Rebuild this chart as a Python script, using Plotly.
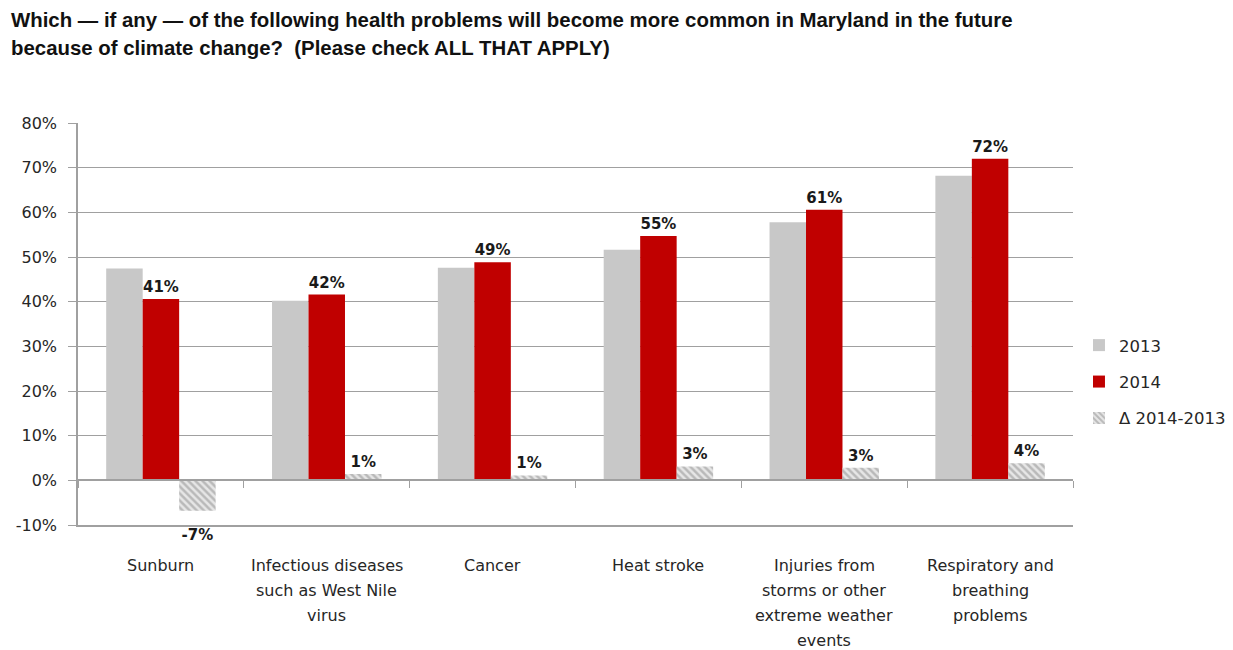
import plotly.graph_objects as go

categories = ["Sunburn", "Infectious diseases<br>such as West Nile<br>virus", "Cancer", "Heat stroke",
              "Injuries from<br>storms or other<br>extreme weather<br>events", "Respiratory and<br>breathing<br>problems"]
v2013 = [47.4, 40.2, 47.6, 51.6, 57.8, 68.2]
v2014 = [40.6, 41.6, 48.8, 54.7, 60.6, 72.0]
delta = [-6.8, 1.4, 1.1, 3.1, 2.8, 3.8]
yticks = [-10, 0, 10, 20, 30, 40, 50, 60, 70, 80]
yticklabels = [f"{t}%" for t in yticks]

FONT = "DejaVu Sans"
lbl_font = dict(family=FONT, size=15, color="#1a1a1a", weight="bold")
GRID = "#a0a0a0"
FIG_H = 642
M_T, M_B = 115, 125
PLOT_H = FIG_H - M_T - M_B

def delta_text(v):
    s = f"{round(v):.0f}%"
    return "<span style='font-size:8px'>\u00a0</span><br>" + s if v < 0 else s

fig = go.Figure()
fig.add_trace(go.Bar(name="2013", x=categories, y=v2013, marker_color="#c8c8c8",
                     marker_line_width=0, legendgroup="a"))
fig.add_trace(go.Bar(name="2014", x=categories, y=v2014, marker_color="#c00000",
                     marker_line_width=0, legendgroup="b",
                     text=[f"{round(v):.0f}%" for v in v2014], textposition="outside",
                     textfont=lbl_font, cliponaxis=False))
fig.add_trace(go.Bar(name="Δ 2014-2013", x=categories, y=delta, legendgroup="c",
                     marker=dict(color="white", line_width=0,
                                 pattern=dict(shape="\\", fgcolor="#8c8c8c", bgcolor="#e6e6e6",
                                              size=5, solidity=0.5)),
                     text=[delta_text(v) for v in delta], textposition="outside",
                     textfont=lbl_font, cliponaxis=False, constraintext="none"))
# invisible trace for zero-line axis with boundary ticks
fig.add_trace(go.Bar(x=categories, y=[None]*6, xaxis="x2", showlegend=False, hoverinfo="skip"))

# category labels as annotations (to reproduce the wider line spacing)
annotations = []
for cat in categories:
    for k, line in enumerate(cat.split("<br>")):
        annotations.append(dict(text=line, x=cat, xref="x", yref="paper",
                                y=(-40 - 25 * k) / PLOT_H, xanchor="center", yanchor="middle",
                                showarrow=False, font=dict(family=FONT, size=16, color="#262626")))

annotations += [
    dict(text="<b>Which — if any — of the following health problems will become more common in Maryland in the future</b>",
         xref="paper", yref="paper", x=-0.0693, y=1.256, xanchor="left", yanchor="middle",
         showarrow=False, font=dict(family="Liberation Sans", size=20.4, color="#111111")),
    dict(text="<b>because of climate change?  (Please check ALL THAT APPLY)</b>",
         xref="paper", yref="paper", x=-0.0693, y=1.186, xanchor="left", yanchor="middle",
         showarrow=False, font=dict(family="Liberation Sans", size=20.4, color="#111111")),
]

fig.update_layout(
    width=1225, height=FIG_H,
    margin=dict(l=70, r=160, t=M_T, b=M_B, autoexpand=False),
    plot_bgcolor="white", paper_bgcolor="white",
    barmode="group", bargap=0.34, bargroupgap=0,
    font=dict(family=FONT, size=13, color="#262626"),
    legend=dict(x=1.006, y=0.356, xanchor="left", yanchor="middle",
                font=dict(family=FONT, size=16.5, color="#262626"),
                traceorder="grouped", tracegroupgap=12, itemwidth=30),
    xaxis=dict(showgrid=False, showline=True, linecolor=GRID, linewidth=1.5, ticks="",
               showticklabels=False),
    xaxis2=dict(overlaying="x", matches="x", anchor="free", position=10/90,
                showticklabels=False, showline=True, linecolor=GRID, linewidth=1.5,
                ticks="outside", tickson="boundaries", ticklen=7, tickcolor=GRID,
                showgrid=False),
    yaxis=dict(range=[-10, 80], tickvals=yticks, ticktext=yticklabels,
               showgrid=True, gridcolor=GRID, gridwidth=1.2, zeroline=False,
               showline=True, linecolor=GRID, linewidth=1.5,
               ticks="outside", ticklen=8, tickcolor=GRID, ticklabelstandoff=8,
               tickfont=dict(family=FONT, size=16, color="#262626")),
    annotations=annotations,
)

fig.write_html("out.html")
